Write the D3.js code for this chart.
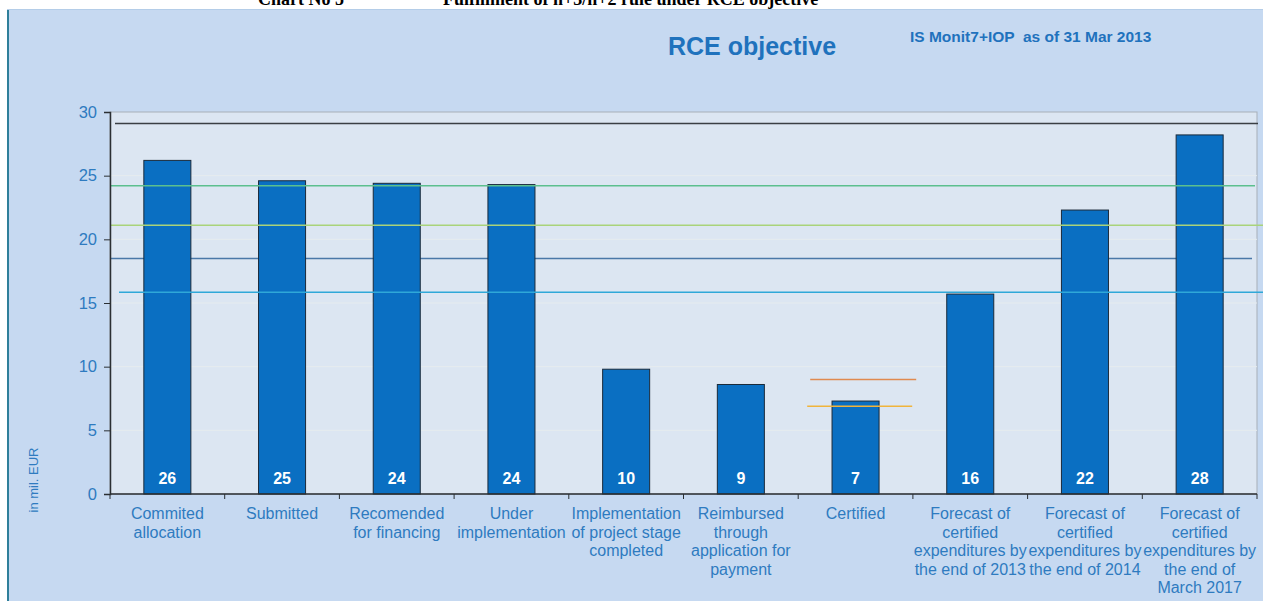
<!DOCTYPE html>
<html>
<head>
<meta charset="utf-8">
<script src="https://cdn.jsdelivr.net/npm/d3@7"></script>
<style>
  html, body { margin: 0; padding: 0; background: #ffffff; }
  svg { display: block; }
  text { font-family: "Liberation Sans", Arial, sans-serif; }
</style>
</head>
<body>
<svg id="chart" width="1263" height="601"></svg>
<script>
// ---- data ----
const categories = [
  "Commited allocation", "Submitted", "Recomended for financing", "Under implementation",
  "Implementation of project stage completed", "Reimbursed through application for payment",
  "Certified", "Forecast of certified expenditures by the end of 2013",
  "Forecast of certified expenditures by the end of 2014",
  "Forecast of certified expenditures by the end of March 2017"
];
const labelLines = [
  ["Commited", "allocation"],
  ["Submitted"],
  ["Recomended", "for financing"],
  ["Under", "implementation"],
  ["Implementation", "of project stage", "completed"],
  ["Reimbursed", "through", "application for", "payment"],
  ["Certified"],
  ["Forecast of", "certified", "expenditures by", "the end of 2013"],
  ["Forecast of", "certified", "expenditures by", "the end of 2014"],
  ["Forecast of", "certified", "expenditures by", "the end of", "March 2017"]
];
const values = [26.2, 24.6, 24.4, 24.3, 9.8, 8.6, 7.3, 15.7, 22.3, 28.2];
const yTicks = [0, 5, 10, 15, 20, 25, 30];
const refValues = [29.1, 24.2, 21.1, 18.5, 15.85];       // full-width reference lines
const certifiedRefValues = [9.0, 6.9];                   // short lines at "Certified"
const titleText = ["Chart No 5", "Fulfillment of n+3/n+2 rule under RCE objective"];
const headerText = "RCE objective";
const sourceText = "IS Monit7+IOP  as of 31 Mar 2013";
const yAxisTitle = "in mil. EUR";

// ---- styles ----
const refStyles = [
  { color: "#3a3f44", x0: 5, x1: 1258, front: true },
  { color: "#5cbf8e", x0: 0, x1: 1255, front: true },
  { color: "#a9d37a", x0: 0, x1: 1263, front: true },
  { color: "#4a78a8", x0: 0, x1: 1252, front: false },
  { color: "#2fa8d8", x0: 9, x1: 1263, front: true }
];
const certStyles = [
  { color: "#e08a50", dx0: 12, dx1: 118 },
  { color: "#f0b43c", dx0: 9, dx1: 114 }
];
const blue = "#2e7bc0";

const svg = d3.select("#chart");
const W = 1263, H = 601;
const plot = { left: 110, right: 1257, top: 112, bottom: 494 };

// top title (cut off at the top edge, as in the source page)
[[258, titleText[0]], [443, titleText[1]]].forEach(([tx, t]) => {
  svg.append("text").attr("x", tx).attr("y", 5)
    .style("font-family", "'Liberation Serif', 'Times New Roman', serif")
    .style("font-weight", "bold").style("font-size", "18px").attr("fill", "#000")
    .text(t);
});

// panel
svg.append("rect").attr("x", 7).attr("y", 9).attr("width", W - 7).attr("height", H - 9)
  .attr("fill", "#c6d9f1");
svg.append("line").attr("x1", 8).attr("x2", 8).attr("y1", 9).attr("y2", H)
  .attr("stroke", "#2f7f9a").attr("stroke-width", 2);
svg.append("line").attr("x1", 7).attr("x2", W).attr("y1", 9.5).attr("y2", 9.5)
  .attr("stroke", "#b4cde8").attr("stroke-width", 1);

// scales
const x = d3.scaleBand().domain(categories).range([plot.left, plot.right]).padding(0);
const y = d3.scaleLinear().domain([0, 30]).range([plot.bottom, plot.top]);
const bw = x.bandwidth() * 0.41;
const bOff = (x.bandwidth() - bw) / 2;

// plot area
svg.append("rect").attr("x", plot.left).attr("y", plot.top)
  .attr("width", plot.right - plot.left).attr("height", plot.bottom - plot.top)
  .attr("fill", "#dce6f2").attr("stroke", "#a7afb8").attr("stroke-width", 1);

// faint gridlines
svg.append("g").selectAll("line").data(yTicks.filter(d => d > 0 && d < 30)).join("line")
  .attr("x1", plot.left).attr("x2", plot.right)
  .attr("y1", d => y(d)).attr("y2", d => y(d))
  .attr("stroke", "#e6ecef").attr("stroke-width", 1);

// reference lines behind bars
const refData = refValues.map((v, i) => ({ v, ...refStyles[i] }));
function drawRef(sel, data) {
  sel.selectAll("line").data(data).join("line")
    .attr("x1", d => plot.left + d.x0).attr("x2", d => d.x1)
    .attr("y1", d => y(d.v)).attr("y2", d => y(d.v))
    .attr("stroke", d => d.color).attr("stroke-width", 1.5);
}
drawRef(svg.append("g"), refData.filter(d => !d.front));

// bars
svg.append("g").selectAll("rect").data(values).join("rect")
  .attr("x", (d, i) => x(categories[i]) + bOff)
  .attr("y", d => y(d))
  .attr("width", bw)
  .attr("height", d => y(0) - y(d))
  .attr("fill", "#0a6fc2")
  .attr("stroke", "#1b2a3a").attr("stroke-width", 1);

// reference lines in front of bars
drawRef(svg.append("g"), refData.filter(d => d.front));

// certified short lines
const cx = x("Certified");
svg.append("g").selectAll("line").data(certifiedRefValues.map((v, i) => ({ v, ...certStyles[i] }))).join("line")
  .attr("x1", d => cx + d.dx0).attr("x2", d => cx + d.dx1)
  .attr("y1", d => y(d.v)).attr("y2", d => y(d.v))
  .attr("stroke", d => d.color).attr("stroke-width", 1.5);

// value labels
const fmt = d3.format(".0f");
svg.append("g").selectAll("text").data(values).join("text")
  .attr("x", (d, i) => x(categories[i]) + x.bandwidth() / 2)
  .attr("y", y(0) - 10)
  .attr("text-anchor", "middle")
  .style("font-size", "16px").style("font-weight", "bold")
  .attr("fill", "#ffffff")
  .text(d => fmt(d));

// y axis
const yAxis = svg.append("g").attr("transform", `translate(${plot.left},0)`)
  .call(d3.axisLeft(y).tickValues(yTicks).tickSize(6).tickPadding(7));
yAxis.select(".domain").attr("stroke", "#2b2f33").attr("stroke-width", 1.5);
yAxis.selectAll(".tick line").attr("stroke", "#2b2f33");
yAxis.selectAll(".tick text").attr("fill", blue)
  .style("font-size", "16.5px").style("font-family", "'Liberation Sans', Arial, sans-serif");

// x axis with ticks at band boundaries
const xAxisG = svg.append("g").attr("transform", `translate(0,${plot.bottom})`);
xAxisG.append("line").attr("x1", plot.left).attr("x2", plot.right)
  .attr("y1", 0).attr("y2", 0).attr("stroke", "#2b2f33").attr("stroke-width", 1.5);
const bounds = categories.map(c => x(c)).concat([x(categories[categories.length - 1]) + x.bandwidth()]);
xAxisG.selectAll("line.tk").data(bounds).join("line").attr("class", "tk")
  .attr("x1", d => d).attr("x2", d => d).attr("y1", 0).attr("y2", 5)
  .attr("stroke", "#2b2f33");

// category labels
const lab = svg.append("g").selectAll("text").data(labelLines).join("text")
  .attr("text-anchor", "middle")
  .attr("fill", blue)
  .style("font-size", "16px");
lab.each(function (lines, i) {
  const cxl = x(categories[i]) + x.bandwidth() / 2;
  d3.select(this).selectAll("tspan").data(lines).join("tspan")
    .attr("x", cxl).attr("y", (d, j) => 519 + j * 18.6)
    .text(d => d);
});

// y axis title
svg.append("text")
  .attr("transform", "translate(38,480) rotate(-90)")
  .attr("text-anchor", "middle")
  .attr("fill", blue)
  .style("font-size", "13px")
  .text(yAxisTitle);

// header
svg.append("text").attr("x", 668).attr("y", 55)
  .style("font-size", "25px").style("font-weight", "bold").attr("fill", "#1f72bd")
  .text(headerText);
svg.append("text").attr("x", 910).attr("y", 42)
  .style("font-size", "15.5px").style("font-weight", "bold").attr("fill", "#1f72bd")
  .attr("xml:space", "preserve").style("white-space", "pre")
  .text(sourceText);
</script>
</body>
</html>
